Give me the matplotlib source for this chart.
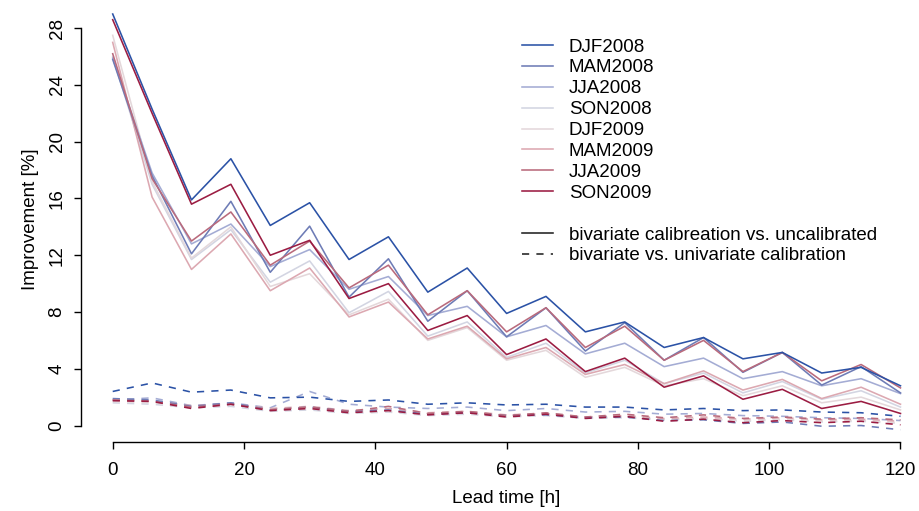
import matplotlib
matplotlib.use("Agg")
import matplotlib.pyplot as plt
from matplotlib.lines import Line2D

plt.rcParams['font.family'] = ['Liberation Sans', 'DejaVu Sans']

lead = [0, 6, 12, 18, 24, 30, 36, 42, 48, 54, 60, 66, 72, 78, 84, 90, 96, 102, 108, 114, 120]
seasons = ["DJF2008", "MAM2008", "JJA2008", "SON2008", "DJF2009", "MAM2009", "JJA2009", "SON2009"]
colors = ["#2B52A6", "#6E7CB6", "#A4ACD4", "#D3D5E2", "#E4D8DB", "#DCA8B1", "#B96A7C", "#9B1C42"]

# bivariate calibration vs. uncalibrated
solid_DJF2008 = [29.0, 22.3, 15.9, 18.8, 14.1, 15.7, 11.7, 13.3, 9.4, 11.1, 7.9, 9.1, 6.6, 7.3, 5.5, 6.2, 4.7, 5.15, 3.7, 4.1, 2.8]
solid_MAM2008 = [25.8, 17.6, 12.1, 15.8, 10.8, 14.05, 9.05, 11.75, 7.35, 9.5, 6.25, 8.3, 5.25, 7.25, 4.6, 6.2, 3.75, 5.15, 2.85, 4.15, 2.3]
solid_JJA2008 = [25.9, 17.8, 12.8, 14.2, 11.2, 12.4, 9.6, 10.5, 7.75, 8.4, 6.25, 7.05, 5.05, 5.8, 4.15, 4.75, 3.3, 3.8, 2.8, 3.3, 2.25]
solid_SON2008 = [26.0, 17.0, 11.7, 13.8, 10.1, 11.6, 7.95, 9.45, 6.3, 7.3, 4.8, 5.8, 3.7, 4.6, 2.95, 3.7, 2.3, 3.1, 1.85, 2.45, 1.3]
solid_DJF2009 = [27.5, 17.2, 11.8, 14.0, 9.8, 10.7, 7.8, 8.9, 6.0, 6.9, 4.6, 5.3, 3.4, 4.1, 2.8, 3.3, 2.1, 2.8, 1.6, 2.0, 1.1]
solid_MAM2009 = [27.0, 16.1, 11.0, 13.5, 9.5, 11.1, 7.65, 8.7, 6.1, 7.0, 4.7, 5.5, 3.6, 4.3, 2.95, 3.85, 2.5, 3.25, 1.9, 2.7, 1.5]
solid_JJA2009 = [26.2, 17.4, 13.0, 15.05, 11.3, 13.0, 9.7, 11.3, 7.8, 9.5, 6.6, 8.3, 5.5, 7.0, 4.6, 6.0, 3.8, 5.15, 3.15, 4.3, 2.65]
solid_SON2009 = [28.6, 22.0, 15.6, 17.0, 12.0, 13.05, 8.95, 10.0, 6.7, 7.75, 5.0, 6.1, 3.8, 4.75, 2.7, 3.5, 1.85, 2.55, 1.2, 1.7, 0.85]

# bivariate vs. univariate calibration
dash_DJF2008 = [2.4, 3.0, 2.35, 2.5, 1.95, 2.0, 1.7, 1.8, 1.5, 1.6, 1.45, 1.5, 1.3, 1.3, 1.1, 1.2, 1.05, 1.1, 0.95, 0.9, 0.65]
dash_MAM2008 = [1.9, 1.8, 1.35, 1.6, 1.1, 1.3, 1.0, 1.1, 0.8, 0.9, 0.7, 0.75, 0.55, 0.6, 0.35, 0.4, 0.15, 0.25, -0.05, 0.0, -0.3]
dash_JJA2008 = [1.8, 1.95, 1.4, 1.6, 1.25, 2.4, 1.5, 1.3, 1.2, 1.3, 1.05, 1.2, 0.95, 1.0, 0.8, 0.85, 0.7, 0.65, 0.55, 0.5, 0.35]
dash_SON2008 = [1.6, 1.5, 1.25, 1.35, 1.0, 1.1, 0.85, 0.95, 0.7, 0.8, 0.6, 0.7, 0.5, 0.55, 0.4, 0.5, 0.3, 0.4, 0.25, 0.3, 0.15]
dash_DJF2009 = [1.7, 1.6, 1.3, 1.45, 1.15, 1.25, 0.95, 1.0, 0.8, 0.85, 0.65, 0.75, 0.55, 0.6, 0.45, 0.5, 0.35, 0.45, 0.3, 0.35, 0.2]
dash_MAM2009 = [1.85, 1.75, 1.4, 1.55, 1.2, 1.35, 1.05, 1.2, 0.9, 1.0, 0.75, 0.85, 0.6, 0.7, 0.5, 0.6, 0.45, 0.55, 0.4, 0.45, 0.3]
dash_JJA2009 = [1.8, 1.7, 1.3, 1.5, 1.1, 1.3, 1.0, 1.35, 0.85, 1.0, 0.7, 0.9, 0.6, 0.8, 0.55, 0.75, 0.5, 0.6, 0.45, 0.55, 0.4]
dash_SON2009 = [1.75, 1.7, 1.2, 1.5, 1.05, 1.2, 0.9, 1.05, 0.75, 0.9, 0.6, 0.8, 0.5, 0.65, 0.3, 0.45, 0.2, 0.35, 0.2, 0.3, 0.05]

solid_series = [solid_DJF2008, solid_MAM2008, solid_JJA2008, solid_SON2008,
                solid_DJF2009, solid_MAM2009, solid_JJA2009, solid_SON2009]
dash_series = [dash_DJF2008, dash_MAM2008, dash_JJA2008, dash_SON2008,
               dash_DJF2009, dash_MAM2009, dash_JJA2009, dash_SON2009]

xticks = [0, 20, 40, 60, 80, 100, 120]
yticks = [0, 4, 8, 12, 16, 20, 24, 28]

FS = 13.5
W, H = 919, 511
fig = plt.figure(figsize=(W / 100, H / 100), dpi=100)
# axes region in pixels
left_px, right_px = 81.2, 932.0
bottom_px, top_px = 441.7, -3.3
ax = fig.add_axes([left_px / W, (H - bottom_px) / H,
                   (right_px - left_px) / W, (bottom_px - top_px) / H])

DASH = (0, (4.5, 4.5))
order = [3, 4, 2, 5, 1, 6, 0, 7]
for i in order:
    ax.plot(lead, dash_series[i], color=colors[i], lw=1.15, linestyle=DASH)
for i in order:
    ax.plot(lead, solid_series[i], color=colors[i], lw=1.15, linestyle='-')

ax.set_xlim(-4.8, 124.8)
ax.set_ylim(-1.14, 30.22)

for s in ['top', 'right']:
    ax.spines[s].set_visible(False)
ax.spines['left'].set_bounds(0, 28)
ax.spines['bottom'].set_bounds(0, 120)
for s in ['left', 'bottom']:
    ax.spines[s].set_linewidth(1.0)
    ax.spines[s].set_color('black')

ax.set_xticks(xticks)
ax.set_yticks(yticks)
ax.set_xticklabels([str(v) for v in xticks])
ax.set_yticklabels([str(v) for v in yticks], rotation=90, va='center')
ax.tick_params(axis='both', direction='out', length=5.3, width=1.0, labelsize=FS, colors='black')
ax.tick_params(axis='x', pad=9)
ax.tick_params(axis='y', pad=6)

ax.set_xlabel("Lead time [h]", fontsize=FS, labelpad=8)
ax.set_ylabel("Improvement [%]", fontsize=FS, labelpad=7)

handles = [Line2D([0], [0], color=c, lw=1.15) for c in colors]
labels = list(seasons)
handles.append(Line2D([0], [0], color='none', lw=0))
labels.append(' ')
handles.append(Line2D([0], [0], color='#222222', lw=1.15))
labels.append('bivariate calibreation vs. uncalibrated')
handles.append(Line2D([0], [0], color='#222222', lw=1.15, linestyle=DASH))
labels.append('bivariate vs. univariate calibration')

leg = fig.legend(handles, labels, loc='upper left',
                 bbox_to_anchor=(522 / W, 1 - 38.5 / H), frameon=False,
                 fontsize=FS, handlelength=1.65, handletextpad=0.85,
                 labelspacing=0.2, borderpad=0, borderaxespad=0)

fig.savefig("out.png", dpi=100)
